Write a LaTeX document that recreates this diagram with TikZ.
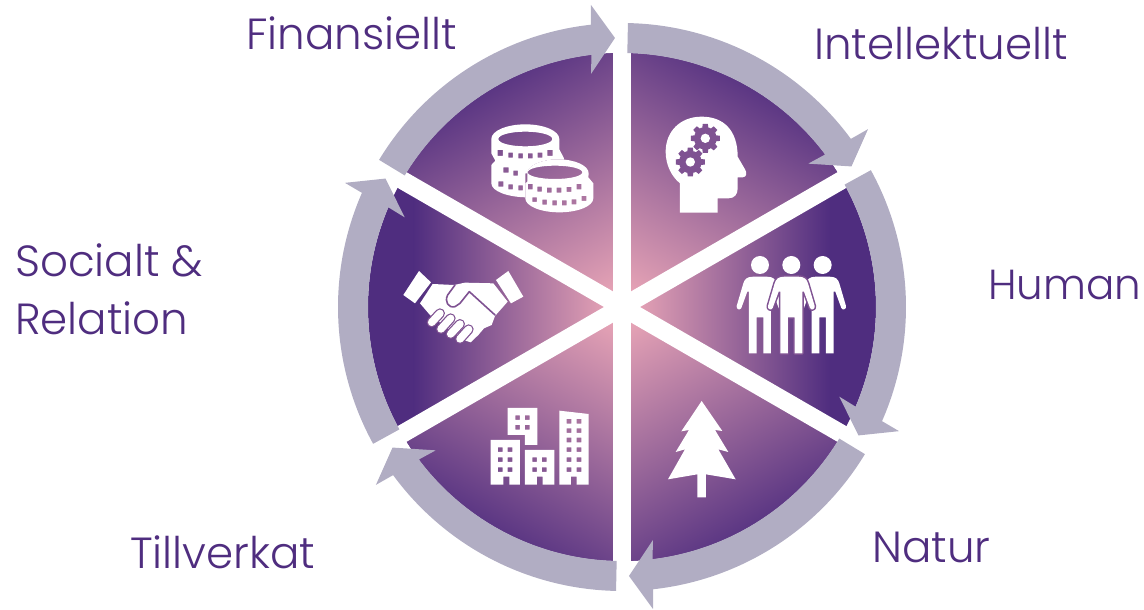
\documentclass[tikz,border=0pt]{standalone}
\usepackage{fontspec}
\newfontfamily\lab{Poppins}[UprightFont=* Light]
\definecolor{ringc}{HTML}{B1ADC3}
\definecolor{pinkc}{HTML}{F0ABB9}
\definecolor{halfc}{HTML}{AE78A3}
\definecolor{darkc}{HTML}{4F2D7F}
\definecolor{midc}{HTML}{7F5292}
\tikzset{
  pxframe/.style={x=1pt,y=-1pt,shift={(-622,-307)}},
  zoomframe/.style={x=0.33333pt,y=-0.33333pt},
  lbltext/.style={anchor=base west,inner sep=0pt,text=darkc,font=\lab\fontsize{43.6}{50}\selectfont},
  ringarrow/.style={fill=ringc,draw=none},
  band/.style={draw=white,line width=18pt},
  icon/.style={fill=white,draw=none}
}
\newcommand{\wedgeshade}[2]{%
  \begin{scope}[transform canvas={rotate=#1}]
    \clip (0,0) -- (-30:254) arc[start angle=-30,end angle=30,radius=254] -- cycle;
    \fill[darkc] (0,-300) rectangle (300,300);
    \shade[left color=pinkc,middle color=halfc,right color=darkc] (0,-300) rectangle (#2,300);
  \end{scope}}
\newcommand{\persona}[1]{%
  (#1-20,110) -- (#1+20,110) .. controls (#1+40,110) and (#1+46,118) .. (#1+50,130) -- (#1+70,198) .. controls (#1+72,208) and (#1+60,212) .. (#1+56,204) -- (#1+38,155) -- (#1+33,155) -- (#1+33,340) -- (#1+10,340) -- (#1+10,232) -- (#1-10,232) -- (#1-10,340) -- (#1-33,340) -- (#1-33,155) -- (#1-38,155) -- (#1-56,204) .. controls (#1-60,212) and (#1-72,208) .. (#1-70,198) -- (#1-50,130) .. controls (#1-46,118) and (#1-40,110) .. (#1-20,110) -- cycle}
\newcommand{\winds}[2]{\foreach \wx in {#1}{\foreach \wy in {#2}{ (\wx,\wy) rectangle ++(14,14) }}}
\begin{document}
\begin{tikzpicture}[x=1pt,y=1pt]
\useasboundingbox (-622,307) rectangle (522,-303);
% gradient sectors
\wedgeshade{0}{208}
\wedgeshade{180}{208}
\wedgeshade{60}{275}
\wedgeshade{120}{275}
\wedgeshade{240}{275}
\wedgeshade{300}{275}
% white bands
\draw[band] (90:262) -- (-90:262);
\draw[band] (30:262) -- (210:262);
\draw[band] (150:262) -- (-30:262);
% ring arrows
\foreach \k in {0,...,5}{
  \begin{scope}[rotate=-60*\k]
    \path[ringarrow] (148.8:284) arc[start angle=148.8,end angle=96.3,radius=284]
      -- (-31,302) -- (-7,269) -- (-31,233) -- (96.9:254)
      arc[start angle=96.9,end angle=148.8,radius=254] -- cycle;
  \end{scope}
}
\begin{scope}[pxframe]
% labels
\node[lbltext] (fin) at (246,50) {Finansiellt};
\node[lbltext] (int) at (814,60) {Intellektuellt};
\node[lbltext,font=\lab\fontsize{42}{50}\selectfont] (hum) at (988,300) {Human};
\node[lbltext] (soc) at (15,277) {Socialt \&};
\node[lbltext] (rel) at (15,335) {Relation};
\node[lbltext] (nat) at (872,562) {Natur};
\node[lbltext] (til) at (130,568) {Tillverkat};
% coins
\begin{scope}[shift={(440,90)},zoomframe]
  \begin{scope}[even odd rule]
    \clip (-100,-100) rectangle (800,600)
      (256,250) -- (262,250) arc[start angle=180,end angle=360,x radius=92,y radius=42]
      -- (460,280) -- (460,325) arc[start angle=0,end angle=180,x radius=102,y radius=42] -- (256,280) -- cycle;
    \fill[icon,even odd rule]
      (154,147) arc[start angle=180,end angle=360,x radius=102,y radius=44]
      -- (358,178) -- (372,205) -- (372,280) arc[start angle=0,end angle=180,x radius=109,y radius=42]
      -- (154,225) -- (166,212) -- (154,190) -- cycle
      (256,147) ellipse[x radius=81,y radius=22]
      (173,180) rectangle ++(16,18) (205,188) rectangle ++(14,15) (235,190) rectangle ++(14,15) (264,190) rectangle ++(14,15) (293,188) rectangle ++(14,15) (322,180) rectangle ++(16,18)
      (190,232) rectangle ++(16,16) (220,242) rectangle ++(14,15)
      (175,274) rectangle ++(15,16) (205,283) rectangle ++(14,15) (235,286) rectangle ++(14,15);
  \end{scope}
  \fill[icon,even odd rule]
    (262,250) arc[start angle=180,end angle=360,x radius=92,y radius=42]
    -- (445,262) -- (460,280) -- (460,325) arc[start angle=0,end angle=180,x radius=102,y radius=42]
    -- (256,280) -- (262,275) -- cycle
    (345,247) ellipse[x radius=82,y radius=20]
    (264,282) rectangle ++(14,16) (292,290) rectangle ++(14,15) (321,293) rectangle ++(14,15) (350,293) rectangle ++(14,15) (380,291) rectangle ++(14,15) (410,282) rectangle ++(14,16)
    (277,322) rectangle ++(14,14) (307,329) rectangle ++(14,15) (337,331) rectangle ++(14,15) (366,331) rectangle ++(14,15) (395,328) rectangle ++(14,15) (425,318) rectangle ++(14,15);
% head
  \fill[icon,even odd rule]
    (720,368) -- (833,368) -- (833,325) -- (865,325) .. controls (885,325) and (893,312) .. (893,295)
    -- (893,262) -- (908,262) .. controls (920,262) and (922,248) .. (915,238)
    -- (893,200) .. controls (893,120) and (850,80) .. (785,80)
    .. controls (720,80) and (677,125) .. (677,185)
    .. controls (677,225) and (695,260) .. (720,280) -- cycle;
\end{scope}
\begin{scope}[shift={(440,90)},zoomframe]
  \foreach \cx/\cy in {796/145,751/216}{
    \fill[midc] (\cx,\cy) circle (34);
    \foreach \a in {0,45,...,315}{
      \fill[midc] ([shift={(\cx,\cy)}]\a-10:44) -- ([shift={(\cx,\cy)}]\a+10:44) -- ([shift={(\cx,\cy)}]\a+16:33) -- ([shift={(\cx,\cy)}]\a-16:33) -- cycle;
    }
    \fill[white] (\cx,\cy) circle (14);
  }
\end{scope}
% handshake
\begin{scope}[shift={(380,240)},zoomframe]
  \fill[icon] (117,93) -- (153,127) -- (105,190) -- (70,165) -- cycle;
  \fill[icon] (385,93) -- (348,120) -- (393,190) -- (430,170) -- cycle;
  \fill[icon] (158,132) -- (222,135) -- (255,128) -- (340,130) -- (383,185) -- (345,228)
     -- (335,255) -- (312,265) -- (295,285) -- (272,307) -- (250,300) -- (150,225) -- (120,190) -- cycle;
  \draw[midc,line width=1.6pt,line join=round,line cap=round]
     (225,135) -- (203,165) .. controls (193,185) and (205,205) .. (225,200) -- (240,190) -- (268,155) -- (345,225);
  \foreach \xa/\ya/\xb/\yb in {155/247/180/220, 183/267/212/235, 212/282/240/252, 240/297/266/268}{
    \draw[midc,line width=10pt,line cap=round] (\xa,\ya) -- (\xb,\yb);
    \draw[white,line width=7.5pt,line cap=round] (\xa,\ya) -- (\xb,\yb);
  }
\end{scope}
% people
\begin{scope}[shift={(720,240)},zoomframe]
  \fill[icon] \persona{120};
  \fill[icon] \persona{308};
  \draw[midc,line width=3pt,line join=round] \persona{214};
  \fill[icon] \persona{214};
  \fill[icon] (120,75) circle (27) (214,75) circle (27) (308,75) circle (27);
\end{scope}
% buildings and tree
\begin{scope}[shift={(470,390)},zoomframe]
  \fill[icon,even odd rule] (113,54) -- (202,54) -- (202,165) -- (165,165) -- (165,135) -- (113,135) -- cycle
    \winds{136,165}{76,105};
  \fill[icon,even odd rule] (62,150) -- (150,150) -- (150,284) -- (118,284) -- (118,260) -- (100,260) -- (100,284) -- (62,284) -- cycle
    \winds{84,113}{172,202,232};
  \fill[icon,even odd rule] (165,180) -- (253,180) -- (253,284) -- (218,284) -- (218,260) -- (201,260) -- (201,284) -- (165,284) -- cycle
    \winds{187,216}{202,232};
  \fill[icon,even odd rule] (268,62) -- (356,72) -- (356,284) -- (320,284) -- (320,260) -- (303,260) -- (303,284) -- (268,284) -- cycle
    \winds{290,320}{87,115,143,172,202,232};
  \fill[icon] (695,33) -- (757,123) -- (735,120) -- (775,186) -- (745,178) -- (797,268) -- (708,253) -- (708,322) -- (682,322) -- (682,253) -- (594,268) -- (645,178) -- (617,186) -- (657,120) -- (634,124) -- cycle;
\end{scope}
\end{scope}
\end{tikzpicture}
\end{document}
